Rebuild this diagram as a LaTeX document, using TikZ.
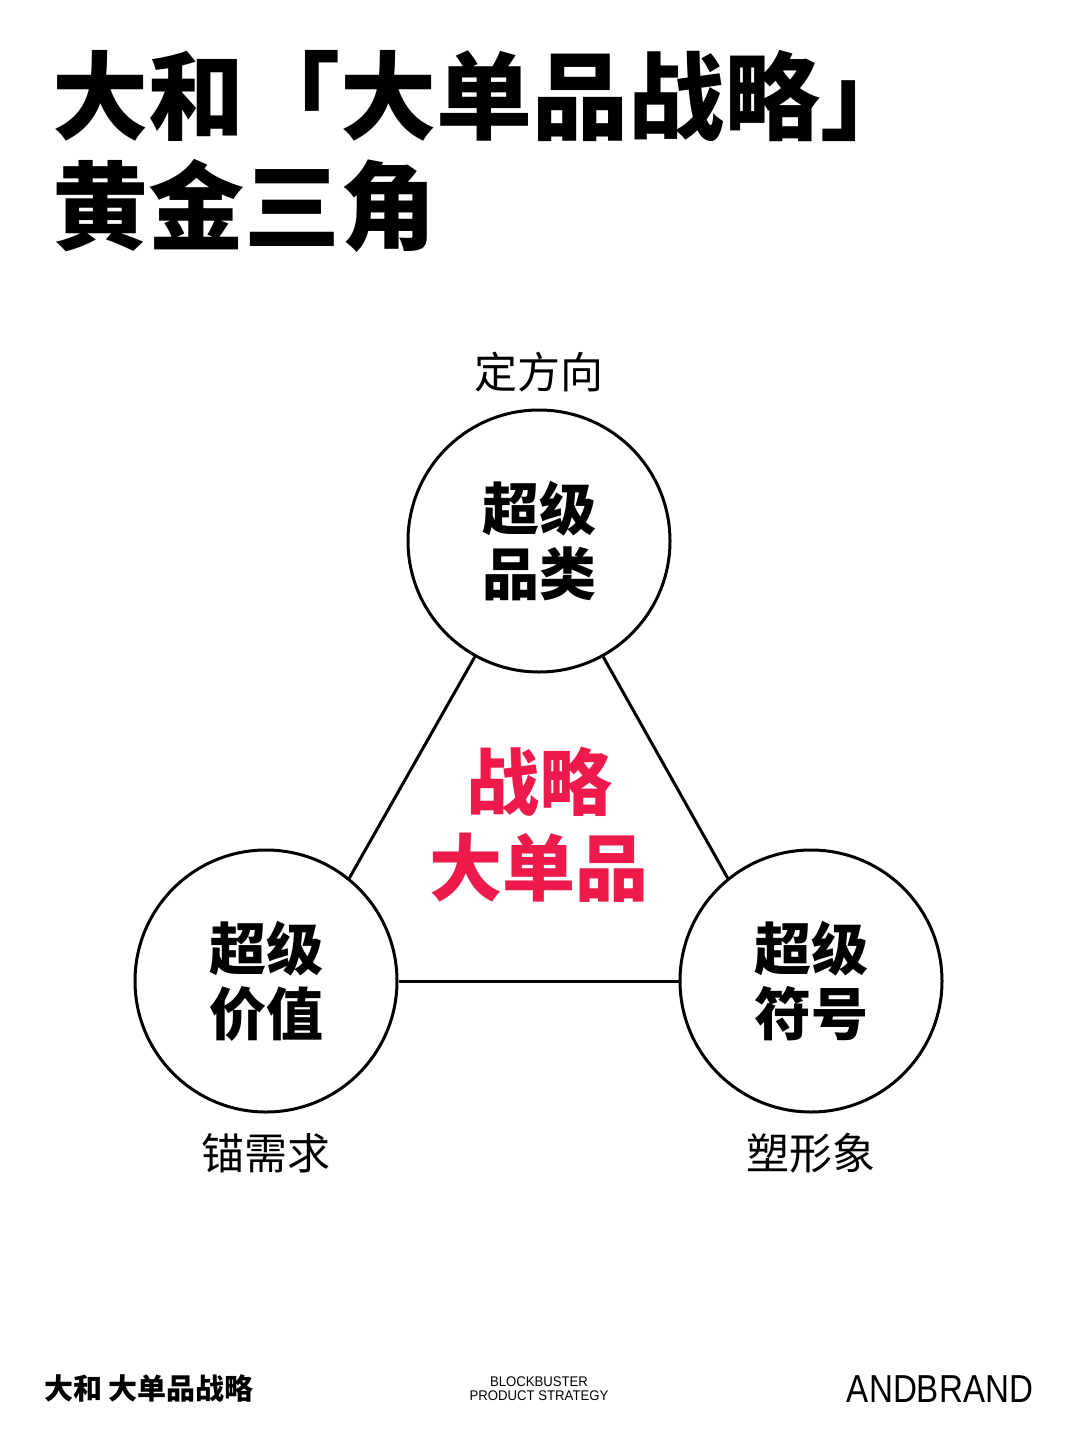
\documentclass[tikz,border=0pt]{standalone}
\usepackage{fontspec}
\usepackage{graphicx}
\newfontfamily\cjk{Noto Sans CJK SC}
\newfontfamily\lat{Liberation Sans}
\definecolor{accent}{HTML}{EE1A4B}
\begin{document}
\begin{tikzpicture}[x=0.5pt,y=-0.5pt,
  txt/.style={inner sep=0pt, outer sep=0pt},
  ring/.style={circle, draw=black, line width=1.5pt, minimum size=131pt, inner sep=0pt, align=center,
     font=\cjk\bfseries\fontsize{28.5pt}{32.5pt}\selectfont},
  edge/.style={draw=black, line width=1.5pt},
  lab/.style={txt, font=\cjk\fontsize{21.5pt}{24pt}\selectfont},
  title/.style={txt, anchor=west, font=\cjk\bfseries\fontsize{48pt}{52pt}\selectfont}]
\useasboundingbox[fill=white] (0,0) rectangle (1080,1440);
% title
\node[title] (t1) at (52,96) {大和「大单品战略」};
\node[title] (t2) at (52,206) {黄金三角};
% circles
\node[ring] (top) at (539,541) {超级\\品类};
\node[ring] (left) at (266,981) {超级\\价值};
\node[ring] (right) at (811,981) {超级\\符号};
\draw[edge] (top.-119) -- (left.51);
\draw[edge] (top.-61) -- (right.129);
\draw[edge] (left.east) -- (right.west);
% center
\node[txt, align=center, text=accent, font=\cjk\bfseries\fontsize{36.5pt}{43pt}\selectfont] (core) at (539,825) {战略\\大单品};
% labels
\node[lab] (l1) at (539,372) {定方向};
\node[lab] (l2) at (266,1153) {锚需求};
\node[lab] (l3) at (811,1153) {塑形象};
% footer
\node[txt, anchor=west, font=\cjk\bfseries\fontsize{14.5pt}{16pt}\selectfont] (f1) at (44,1388) {大和 大单品战略};
\node[txt, align=center, font=\lat\fontsize{7pt}{7pt}\selectfont] (f2) at (539,1389) {\scalebox{0.94}[1]{BLOCKBUSTER}\\\scalebox{0.94}[1]{PRODUCT STRATEGY}};
\node[txt, anchor=east, font=\lat\fontsize{19.5pt}{22pt}\selectfont] (f3) at (1033,1389) {\scalebox{0.85}[1]{ANDBRAND}};
\end{tikzpicture}
\end{document}
